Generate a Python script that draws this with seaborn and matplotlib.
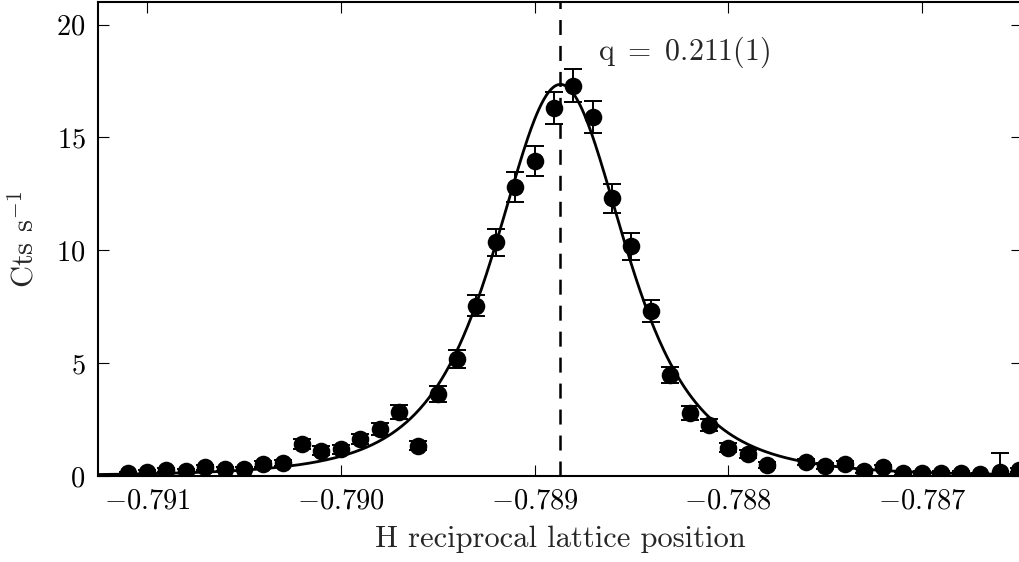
import numpy as np
import pandas as pd
import matplotlib
matplotlib.use("Agg")
import matplotlib.pyplot as plt
from matplotlib.ticker import FixedLocator, FuncFormatter
import seaborn as sns

# ---- data ----
h_pos = [-0.7911, -0.7910, -0.7909, -0.7908, -0.7907, -0.7906, -0.7905, -0.7904,
         -0.7903, -0.7902, -0.7901, -0.7900, -0.7899, -0.7898, -0.7897, -0.7896,
         -0.7895, -0.7894, -0.7893, -0.7892, -0.7891, -0.7890, -0.7889, -0.7888,
         -0.7887, -0.7886, -0.7885, -0.7884, -0.7883, -0.7882, -0.7881, -0.7880,
         -0.7879, -0.7878, -0.7876, -0.7875, -0.7874, -0.7873, -0.7872, -0.7871,
         -0.7870, -0.7869, -0.7868, -0.7867, -0.7866, -0.7865]
counts = [0.12, 0.19, 0.27, 0.22, 0.38, 0.31, 0.30, 0.52,
          0.59, 1.42, 1.12, 1.18, 1.64, 2.07, 2.82, 1.35,
          3.65, 5.19, 7.55, 10.35, 12.80, 13.95, 16.30, 17.30,
          15.90, 12.30, 10.17, 7.32, 4.48, 2.78, 2.26, 1.26,
          0.98, 0.49, 0.63, 0.44, 0.52, 0.24, 0.38, 0.12,
          0.15, 0.15, 0.15, 0.09, 0.19, 0.27]
errors = [0.06, 0.08, 0.09, 0.08, 0.11, 0.10, 0.10, 0.13,
          0.14, 0.21, 0.19, 0.19, 0.23, 0.26, 0.31, 0.21,
          0.35, 0.41, 0.48, 0.59, 0.66, 0.68, 0.70, 0.74,
          0.72, 0.64, 0.58, 0.49, 0.37, 0.30, 0.27, 0.20,
          0.18, 0.13, 0.14, 0.12, 0.13, 0.09, 0.11, 0.06,
          0.07, 0.07, 0.07, 0.05, 0.82, 0.09]

# fitted peak parameters (squared Lorentzian)
fit_center = -0.788866
fit_amplitude = 17.35
fit_width = 0.00061

x_ticks = [-0.791, -0.790, -0.789, -0.788, -0.787]
y_ticks = [0, 5, 10, 15, 20]
x_label = "H reciprocal lattice position"
y_label = r"Cts s$^{-1}$"
annotation = r"$\mathrm{q\ =\ 0.211(1)}$"

df = pd.DataFrame({"h": h_pos, "cts": counts, "err": errors})
x_fit = np.linspace(-0.79126, -0.78648, 800)
y_fit = fit_amplitude / (1 + ((x_fit - fit_center) / fit_width) ** 2) ** 2
fit_df = pd.DataFrame({"h": x_fit, "cts": y_fit})

# ---- style ----
sns.set_theme(style="ticks")
plt.rcParams.update({
    "font.family": ["cmr10"],
    "mathtext.fontset": "cm",
    "axes.formatter.use_mathtext": True,
    "axes.unicode_minus": True,
    "axes.linewidth": 1.5,
    "axes.edgecolor": "black",
    "lines.scale_dashes": False,
})

fig = plt.figure(figsize=(10.19, 5.62), dpi=100)
ax = fig.add_axes([98 / 1019, 86 / 562, (1022 - 98) / 1019, 474 / 562])

sns.lineplot(data=fit_df, x="h", y="cts", color="black", linewidth=2.0,
             ax=ax, zorder=2)
ax.errorbar(df["h"], df["cts"], yerr=df["err"], fmt="none", ecolor="black",
            elinewidth=1.4, capsize=6.5, capthick=1.4, zorder=3)
sns.scatterplot(data=df, x="h", y="cts", color="black", s=160,
                edgecolor="black", linewidth=0, ax=ax, zorder=4)
ax.axvline(fit_center, color="black", linewidth=1.8,
           linestyle=(0, (10.8, 7.9)), zorder=1)

ax.text(-0.78867, 18.76, annotation, fontsize=21.5, va="center", ha="left")

ax.set_xlim(-0.7912529, -0.7864839)
ax.set_ylim(0, 21)
ax.xaxis.set_major_locator(FixedLocator(x_ticks))
ax.yaxis.set_major_locator(FixedLocator(y_ticks))
ax.xaxis.set_major_formatter(FuncFormatter(lambda v, p: r"$%.3f$" % v))
ax.yaxis.set_major_formatter(FuncFormatter(lambda v, p: r"$%d$" % v))
ax.tick_params(direction="in", top=True, right=True, length=8, width=0.8,
               labelsize=20.5, pad=9, colors="black")
for s in ax.spines.values():
    s.set_linewidth(1.5)
    s.set_color("black")

ax.set_xlabel(x_label, fontsize=22, labelpad=8)
ax.set_ylabel(y_label, fontsize=22, labelpad=12)

fig.savefig("out.png", dpi=100)
